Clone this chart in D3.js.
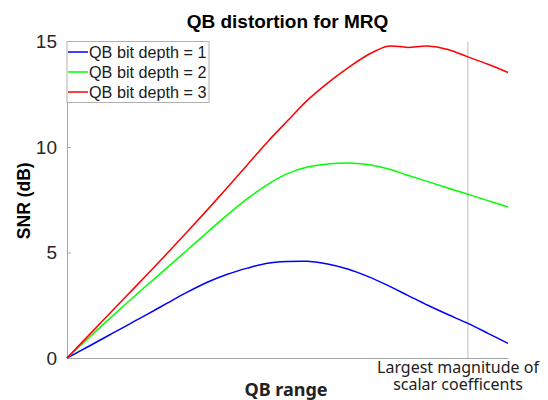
<!DOCTYPE html>
<html>
<head>
<meta charset="utf-8">
<script src="https://cdn.jsdelivr.net/npm/d3@7"></script>
<style>
  body { margin: 0; background: #fff; }
  svg { display: block; }
</style>
</head>
<body>
<svg id="chart" width="548" height="400"></svg>
<script>
// QB range, as a fraction of the largest scalar coefficient magnitude
var qbRange = [0, 0.05, 0.1, 0.15, 0.2, 0.25, 0.3, 0.35, 0.4, 0.45, 0.5, 0.55,
               0.6, 0.65, 0.7, 0.75, 0.8, 0.85, 0.9, 0.95, 1.0, 1.05, 1.1];

var snrDepth1 = [0, 0.51, 1.03, 1.55, 2.07, 2.60, 3.12, 3.59, 3.97, 4.26, 4.49, 4.57,
                 4.58, 4.46, 4.22, 3.87, 3.44, 2.97, 2.50, 2.06, 1.64, 1.17, 0.69];
var snrDepth2 = [0, 0.88, 1.76, 2.62, 3.46, 4.28, 5.12, 5.96, 6.78, 7.55, 8.22, 8.74,
                 9.05, 9.19, 9.24, 9.17, 8.97, 8.66, 8.36, 8.06, 7.76, 7.46, 7.16];
var snrDepth3 = [0, 0.99, 1.98, 2.97, 3.96, 4.96, 5.98, 7.02, 8.08, 9.16, 10.24, 11.24,
                 12.22, 13.03, 13.74, 14.36, 14.78, 14.72, 14.79, 14.62, 14.27, 13.92, 13.53];

var seriesNames = ["QB bit depth = 1", "QB bit depth = 2", "QB bit depth = 3"];
var seriesColors = ["#0000ff", "#00ff00", "#ff0000"];
var yTicks = [0, 5, 10, 15];
var markerX = 1.0;
var markerLabel = ["Largest magnitude of", "scalar coefficents"];

var svg = d3.select("#chart"),
    margin = {top: 41.5, right: 40, bottom: 42, left: 67},
    width = +svg.attr("width") - margin.left - margin.right,
    height = +svg.attr("height") - margin.top - margin.bottom;

var x = d3.scaleLinear().domain([0, 1.1]).range([0, width]),
    y = d3.scaleLinear().domain([0, 15]).range([height, 0]);

var g = svg.append("g")
    .attr("transform", "translate(" + margin.left + "," + margin.top + ")");

var axisColor = "#a6a6a6";

// vertical marker line
g.append("line")
    .attr("x1", x(markerX)).attr("x2", x(markerX))
    .attr("y1", 0).attr("y2", height)
    .attr("stroke", "#bdbdbd")
    .attr("stroke-width", 1);

// y axis, ticks inside
var yAxis = g.append("g")
    .call(d3.axisLeft(y).tickValues(yTicks).tickSize(-4).tickPadding(10).tickSizeOuter(0));
yAxis.select(".domain").attr("stroke", axisColor);
yAxis.selectAll(".tick line").attr("stroke", axisColor);
yAxis.selectAll(".tick text")
    .attr("fill", "#262626")
    .style("font-family", "'Liberation Sans', Arial, sans-serif")
    .style("font-size", "19px");

// x axis, no ticks
var xAxis = g.append("g")
    .attr("transform", "translate(0," + height + ")")
    .call(d3.axisBottom(x).tickValues([]).tickSizeOuter(0));
xAxis.select(".domain").attr("stroke", axisColor);

var series = [snrDepth1, snrDepth2, snrDepth3];

var line = d3.line()
    .x(function(d, i) { return x(qbRange[i]); })
    .y(function(d) { return y(d); })
    .curve(d3.curveCatmullRom.alpha(0.5));

g.selectAll(".series")
    .data(series)
  .enter().append("path")
    .attr("class", "series")
    .attr("fill", "none")
    .attr("stroke", function(d, i) { return seriesColors[i]; })
    .attr("stroke-width", 1.5)
    .attr("d", line);

// legend
var legend = g.append("g").attr("transform", "translate(0,0)");
legend.append("rect")
    .attr("x", 0).attr("y", 0)
    .attr("width", 142).attr("height", 61)
    .attr("fill", "#fff")
    .attr("stroke", "#b0b0b0")
    .attr("stroke-width", 1);

var item = legend.selectAll(".item")
    .data(seriesNames)
  .enter().append("g")
    .attr("class", "item")
    .attr("transform", function(d, i) { return "translate(0," + (10.5 + i * 20) + ")"; });

item.append("line")
    .attr("x1", 1).attr("x2", 21)
    .attr("stroke", function(d, i) { return seriesColors[i]; })
    .attr("stroke-width", 1.5);

item.append("text")
    .attr("x", 22)
    .attr("dy", "0.36em")
    .attr("fill", "#1a1a1a")
    .style("font-family", "'Liberation Sans', Arial, sans-serif")
    .style("font-size", "16.2px")
    .text(function(d) { return d; });

// title
svg.append("text")
    .attr("x", margin.left + width / 2)
    .attr("y", 28)
    .attr("text-anchor", "middle")
    .style("font-family", "'Liberation Sans', Arial, sans-serif")
    .style("font-weight", "bold")
    .style("font-size", "19px")
    .text("QB distortion for MRQ");

// y label
svg.append("text")
    .attr("transform", "translate(30," + (margin.top + height / 2 + 1) + ") rotate(-90)")
    .attr("text-anchor", "middle")
    .style("font-family", "'Liberation Sans', Arial, sans-serif")
    .style("font-weight", "bold")
    .style("font-size", "17.5px")
    .text("SNR (dB)");

// x label
svg.append("text")
    .attr("x", 286)
    .attr("y", 396)
    .attr("text-anchor", "middle")
    .attr("fill", "#222")
    .style("font-family", "'Noto Sans', sans-serif")
    .style("font-weight", "bold")
    .style("font-size", "18px")
    .text("QB range");

// marker label
svg.append("g").selectAll("text")
    .data(markerLabel)
  .enter().append("text")
    .attr("x", 458)
    .attr("y", function(d, i) { return 373 + i * 17; })
    .attr("text-anchor", "middle")
    .attr("fill", "#222")
    .style("font-family", "'Noto Sans', sans-serif")
    .style("font-size", "16px")
    .text(function(d) { return d; });
</script>
</body>
</html>
